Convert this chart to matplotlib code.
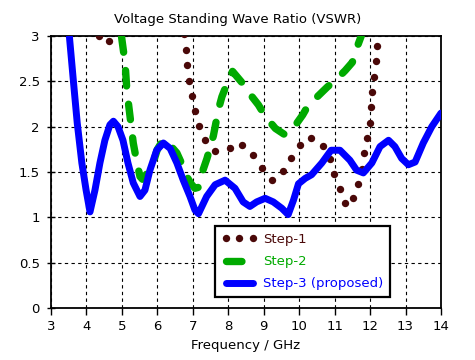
import matplotlib
matplotlib.use("Agg")
import matplotlib.pyplot as plt
import numpy as np

plt.rcParams['font.family'] = ['DejaVu Sans']

# ---- data ----
step1_x = [4.36, 4.62, 4.80, 5.30, 6.40, 6.76, 6.79, 6.84, 6.90, 6.98, 7.06, 7.18, 7.32, 7.58,
           7.97, 8.22, 8.54, 8.79, 9.00, 9.27, 9.52, 9.73, 9.95, 10.18, 10.53, 10.75,
           10.93, 11.02, 11.19, 11.33, 11.53, 11.67, 11.80, 11.85, 11.93, 12.00, 12.03,
           12.08, 12.13, 12.17, 12.20, 12.25]
step1_y = [3.00, 2.91, 3.15, 3.40, 3.40, 3.00, 2.91, 2.70, 2.51, 2.34, 2.17, 2.00, 1.86, 1.73,
           1.74, 1.83, 1.77, 1.64, 1.50, 1.40, 1.50, 1.63, 1.76, 1.88, 1.87, 1.73,
           1.59, 1.42, 1.27, 1.11, 1.22, 1.39, 1.58, 1.73, 1.90, 2.08, 2.26,
           2.44, 2.60, 2.78, 2.95, 3.20]

step2_x = [4.99, 5.09, 5.14, 5.23, 5.32, 5.42, 5.51, 5.58, 5.70, 5.88, 6.00, 6.17, 6.35, 6.55, 6.70,
           6.83, 6.95, 7.06, 7.15, 7.26, 7.40, 7.58, 7.73, 7.82, 7.97, 8.12, 8.40, 8.57,
           8.85, 9.05, 9.33, 9.60, 9.90, 10.10, 10.26, 10.51, 10.80, 11.02, 11.30, 11.50,
           11.58, 11.75]
step2_y = [2.99, 2.70, 2.40, 2.11, 1.82, 1.61, 1.45, 1.42, 1.48, 1.60, 1.75, 1.86, 1.80, 1.71, 1.58,
           1.45, 1.37, 1.32, 1.33, 1.49, 1.65, 1.90, 2.20, 2.33, 2.48, 2.61, 2.48, 2.38,
           2.24, 2.11, 1.98, 1.91, 2.02, 2.13, 2.24, 2.33, 2.44, 2.51, 2.62, 2.71,
           2.82, 3.00]

step3_x = [3.52, 3.63, 3.74, 3.87, 3.99, 4.10, 4.24, 4.38, 4.52, 4.66, 4.76, 4.89, 5.03, 5.17,
           5.32, 5.51, 5.65, 5.79, 5.98, 6.17, 6.36, 6.55, 6.73, 6.92, 7.06, 7.16, 7.39,
           7.63, 7.91, 8.19, 8.42, 8.61, 8.80, 9.04, 9.27, 9.51, 9.69, 9.84, 9.98, 10.17,
           10.35, 10.64, 10.90, 11.15, 11.43, 11.62, 11.81, 12.05, 12.28, 12.52, 12.70,
           12.89, 13.08, 13.27, 13.50, 13.74, 14.00]
step3_y = [2.99, 2.51, 2.04, 1.60, 1.30, 1.06, 1.30, 1.60, 1.85, 2.02, 2.06, 2.00, 1.85, 1.60,
           1.38, 1.23, 1.30, 1.52, 1.74, 1.82, 1.76, 1.60, 1.41, 1.23, 1.08, 1.04, 1.23,
           1.36, 1.41, 1.32, 1.17, 1.12, 1.17, 1.21, 1.17, 1.10, 1.03, 1.19, 1.37, 1.43,
           1.47, 1.60, 1.74, 1.74, 1.63, 1.52, 1.49, 1.60, 1.78, 1.85, 1.78,
           1.65, 1.58, 1.61, 1.82, 2.00, 2.15]

series_labels = ['Step-1', 'Step-2', 'Step-3 (proposed)']
x_ticks = list(range(3, 15))
y_ticks = [0, 0.5, 1, 1.5, 2, 2.5, 3]
y_tick_labels = ['0', '0.5', '1', '1.5', '2', '2.5', '3']

c1, c2, c3 = '#4a0808', '#00aa00', '#0000ff'

fig = plt.figure(figsize=(4.75, 3.6), dpi=100)
ax = fig.add_axes([51/475, 1-308/360, 390/475, 272/360])
ax.set_xlim(3, 14)
ax.set_ylim(0, 3)


def dotted_positions(xs, ys, spacing_px):
    """Place dots evenly along the polyline in display space (a 'dotted line')."""
    pts = ax.transData.transform(np.column_stack([xs, ys]))
    seg = np.hypot(np.diff(pts[:, 0]), np.diff(pts[:, 1]))
    s = np.concatenate([[0], np.cumsum(seg)])
    t = np.arange(0, s[-1] + 1e-9, spacing_px)
    px = np.interp(t, s, pts[:, 0])
    py = np.interp(t, s, pts[:, 1])
    return ax.transData.inverted().transform(np.column_stack([px, py])).T


d1x, d1y = dotted_positions(step1_x, step1_y, 15.5)
l1, = ax.plot(d1x, d1y, linestyle='none', marker='o', ms=5.3, mew=0, color=c1,
              label=series_labels[0], zorder=3)
l2, = ax.plot(step2_x, step2_y, color=c2, lw=5.3, linestyle=(0, (2.1, 2.5)),
              dash_capstyle='round', dash_joinstyle='round', label=series_labels[1], zorder=4)
l3, = ax.plot(step3_x, step3_y, color=c3, lw=5.0, solid_capstyle='round',
              solid_joinstyle='round', label=series_labels[2], zorder=5)

ax.set_xticks(x_ticks)
ax.set_xticklabels([str(t) for t in x_ticks])
ax.set_yticks(y_ticks)
ax.set_yticklabels(y_tick_labels)
ax.tick_params(axis='x', direction='out', length=5, width=1, labelsize=9.5, colors='black', pad=4)
ax.tick_params(axis='y', direction='inout', length=6, width=1, labelsize=9.5, colors='black', pad=5)
ax.grid(True, color='black', linestyle=(0, (3, 3)), linewidth=0.8)
ax.set_axisbelow(True)
for s in ax.spines.values():
    s.set_linewidth(1.3)
    s.set_color('black')

ax.set_xlabel('Frequency / GHz', fontsize=9.5, labelpad=4)
fig.text(0.5, 1-19/360, 'Voltage Standing Wave Ratio (VSWR)', ha='center', va='center', fontsize=9.5)

leg = ax.legend(loc='lower left', bbox_to_anchor=(215/475, 1-297/360), bbox_transform=fig.transFigure,
                fontsize=9.5, frameon=True, fancybox=False, framealpha=1, edgecolor='black',
                handlelength=2.7, handletextpad=0.45, labelspacing=0.7, borderpad=0.5,
                borderaxespad=0, numpoints=3, markerscale=1.0)
leg.get_frame().set_linewidth(1.6)
for txt, col in zip(leg.get_texts(), [c1, c2, c3]):
    txt.set_color(col)
leg.set_zorder(10)

fig.savefig('out.png', dpi=100)
